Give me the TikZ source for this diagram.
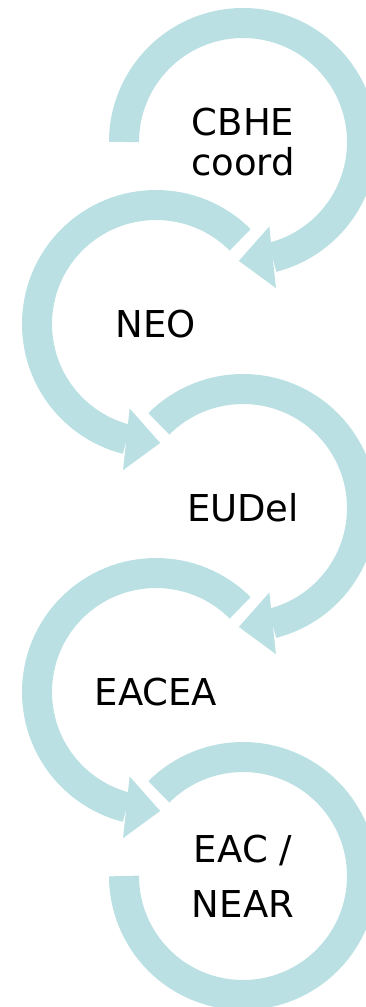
\documentclass[tikz,border=0pt]{standalone}
\usepackage{fontspec}
\setmainfont{DejaVu Sans}
\usetikzlibrary{arrows.meta,bending}
\definecolor{ringteal}{RGB}{187,224,227}
\begin{document}
\begin{tikzpicture}[
    lbl/.style={align=center, font=\fontsize{37}{40}\selectfont},
    ring/.style={color=ringteal, line width=30pt},
    ringtip/.style={-{Triangle[length=34pt,width=62pt,line width=0pt]}}
  ]
    \useasboundingbox (0,0) rectangle (366pt,-1007pt);

    \node[lbl] at (243pt,-142pt) (1) {CBHE\\coord};
    \node[lbl] at (156pt,-324pt) (2) {NEO};
    \node[lbl] at (243pt,-508pt) (3) {EUDel};
    \node[lbl] at (156pt,-692pt) (4) {EACEA};
    \node[lbl, font=\fontsize{37}{55}\selectfont] at (243pt,-876pt) (5) {EAC /\\NEAR};

    \draw[ring, ringtip] ([shift={(180:119pt)}]1.center) arc[start angle=180, end angle=-92, radius=119pt];
    \draw[ring, ringtip] ([shift={(45:119pt)}]2.center) arc[start angle=45, end angle=272, radius=119pt];
    \draw[ring, ringtip] ([shift={(135:119pt)}]3.center) arc[start angle=135, end angle=-92, radius=119pt];
    \draw[ring, ringtip] ([shift={(45:119pt)}]4.center) arc[start angle=45, end angle=272, radius=119pt];
    \draw[ring] ([shift={(135:119pt)}]5.center) arc[start angle=135, end angle=-180, radius=119pt];
  \end{tikzpicture}
\end{document}
